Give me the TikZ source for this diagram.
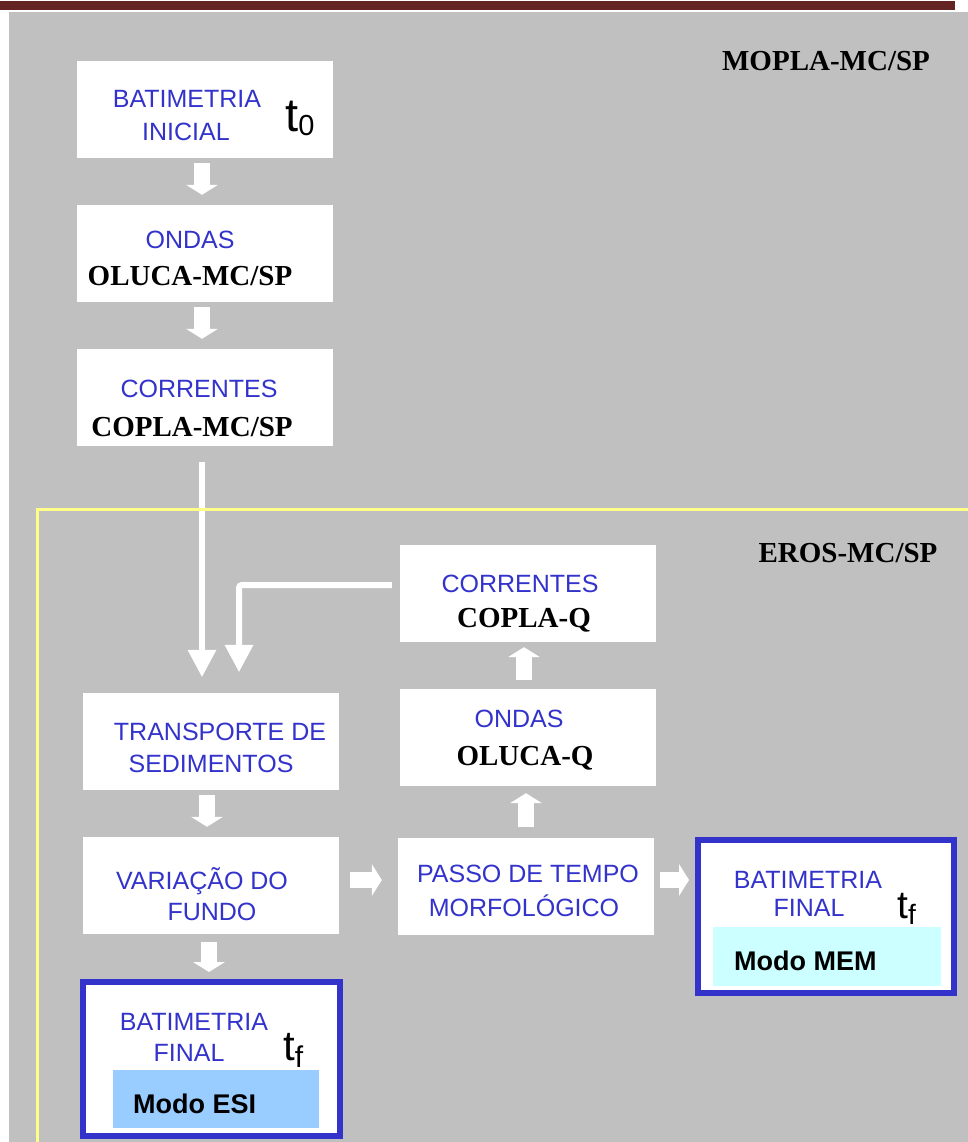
\documentclass[tikz,border=0pt]{standalone}
\usepackage{fontspec}
\setmainfont{Liberation Sans}
\newfontfamily\tnr{Liberation Serif}
\usetikzlibrary{arrows.meta,calc}
\definecolor{bgray}{RGB}{192,192,192}
\definecolor{topbar}{RGB}{99,36,35}
\definecolor{tblue}{RGB}{51,51,204}
\definecolor{memfill}{RGB}{204,255,255}
\definecolor{esifill}{RGB}{153,204,255}
\definecolor{framey}{RGB}{255,255,136}
\newcommand\tsubx[4]{{\fontsize{#1}{#1}\selectfont t}\raisebox{-#3}{\fontsize{#2}{#2}\selectfont #4}}
\begin{document}
\begin{tikzpicture}[x=1pt,y=-1pt,
  box/.style={rectangle,fill=white,inner sep=0pt,minimum width=256pt,minimum height=97pt},
  finalbox/.style={rectangle,fill=white,draw=tblue,line width=6pt,inner sep=0pt},
  modebox/.style={rectangle,inner sep=0pt},
  btxt/.style={text=tblue,font=\fontsize{25}{25}\selectfont,anchor=base,inner sep=0pt},
  stxt/.style={text=black,font=\tnr\bfseries\fontsize{29}{29}\selectfont,anchor=base,inner sep=0pt},
  mtxt/.style={text=black,font=\bfseries\fontsize{27}{27}\selectfont,anchor=base west,inner sep=0pt},
  ttxt/.style={text=black,anchor=base west,inner sep=0pt},
  blockarrow/.style={draw=white,line width=16pt,-{Triangle[width=32pt,length=10pt,line width=0pt]}},
  longarrow/.style={draw=white,line width=6pt,-{Triangle[width=29pt,length=27pt,line width=0pt]}}
]
\useasboundingbox (0,0) rectangle (968,1142);
\fill[white] (0,0) rectangle (968,1142);
\fill[topbar] (0,1) rectangle (955,10);
\fill[bgray] (9,12) rectangle (968,1142);

% boxes
\node[box] (b1) at (205,109.5) {};
\node[box] (b2) at (205,253.5) {};
\node[box] (b3) at (205,397.5) {};
\node[box] (cq) at (528,593.5) {};
\node[box] (oq) at (528,737.5) {};
\node[box] (tr) at (211,741.5) {};
\node[box] (vf) at (211,885.5) {};
\node[box] (pt) at (526,886) {};
\node[finalbox,minimum width=256pt,minimum height=153pt] (mem) at (826,916.5) {};
\node[finalbox,minimum width=257pt,minimum height=154pt] (esi) at (211.5,1059) {};
\node[modebox,fill=memfill,minimum width=228pt,minimum height=59pt] (memf) at (827,956.5) {};
\node[modebox,fill=esifill,minimum width=206pt,minimum height=58pt] (esif) at (216,1099) {};

% titles
\node[stxt] (mopla) at (826,71) {MOPLA-MC/SP};
\node[stxt] (eros) at (848,562) {EROS-MC/SP};

% texts
\node[btxt] (b1a) at (187,108) {BATIMETRIA};
\node[btxt] (b1b) at (186,141) {INICIAL};
\node[ttxt] (b1t) at (285,132) {\tsubx{47}{29}{4pt}{0}};
\node[btxt] (b2a) at (190,248) {ONDAS};
\node[stxt] (b2b) at (190,285) {OLUCA-MC/SP};
\node[btxt] (b3a) at (199,397) {CORRENTES};
\node[stxt] (b3b) at (192,436) {COPLA-MC/SP};
\node[btxt] (cqa) at (520,592) {CORRENTES};
\node[stxt] (cqb) at (524,627) {COPLA-Q};
\node[btxt] (oqa) at (519,727) {ONDAS};
\node[stxt] (oqb) at (525,765) {OLUCA-Q};
\node[btxt] (tra) at (220,740) {TRANSPORTE DE};
\node[btxt] (trb) at (211,772) {SEDIMENTOS};
\node[btxt] (vfa) at (202,889) {VARIAÇÃO DO};
\node[btxt] (vfb) at (212,920) {FUNDO};
\node[btxt] (pta) at (528,882) {PASSO DE TEMPO};
\node[btxt] (ptb) at (524,916) {MORFOLÓGICO};
\node[btxt] (mema) at (808,888) {BATIMETRIA};
\node[btxt] (memb) at (809,916) {FINAL};
\node[ttxt] (memt) at (897,918) {\tsubx{39}{28}{6pt}{f}};
\node[mtxt] (memm) at (734,970) {Modo MEM};
\node[btxt] (esia) at (194,1030) {BATIMETRIA};
\node[btxt] (esib) at (189,1061) {FINAL};
\node[ttxt] (esit) at (283,1060) {\tsubx{42}{30}{7pt}{f}};
\node[mtxt] (esim) at (133,1113) {Modo ESI};

% block arrows
\draw[blockarrow] ($(b1.south)+(-3,5)$) -- ($(b2.north)+(-3,-10)$);
\draw[blockarrow] ($(b2.south)+(-3,5)$) -- ($(b3.north)+(-3,-10)$);
\draw[blockarrow] ($(tr.south)+(-4,5)$) -- ($(vf.north)+(-4,-10)$);
\draw[blockarrow] ($(vf.south)+(-2,8)$) -- ($(esi.north)+(-2.5,-7)$);
\draw[blockarrow] ($(oq.north)+(-4,-9)$) -- ($(cq.south)+(-4,5)$);
\draw[blockarrow] ($(pt.north)+(0,-10)$) -- ($(oq.south)+(-2,7)$);
\draw[blockarrow] ($(vf.east)+(11,-5.5)$) -- ($(pt.west)+(-16,-6)$);
\draw[blockarrow] ($(pt.east)+(6,-6)$) -- ($(mem.west)+(-6,-36.5)$);

% long arrows
\coordinate (l1s) at ($(b3.south)+(-3,16)$);
\coordinate (l1e) at ($(l1s |- tr.north)+(0,-16)$);
\draw[longarrow] (l1s) -- (l1e);
\coordinate (fs) at ($(cq.west)+(-8,-8.5)$);
\coordinate (fe) at ($(tr.north)+(28,-21)$);
\draw[longarrow,rounded corners=3pt] (fs) -| (fe);

% yellow frame
\draw[framey,line width=3.5pt] (968,509.5) -- (37.5,509.5) -- (37.5,1142);
\end{tikzpicture}
\end{document}
